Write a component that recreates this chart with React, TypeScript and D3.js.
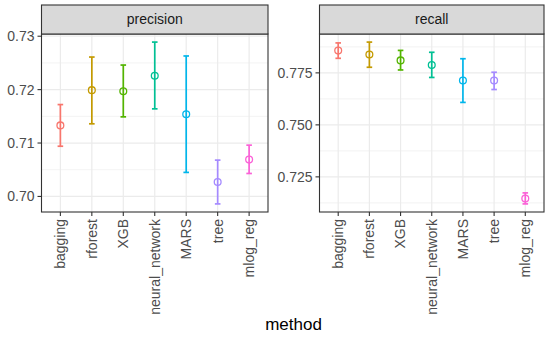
import React from "react";
import * as d3 from "d3";

const methods = ["bagging", "rforest", "XGB", "neural_network", "MARS", "tree", "mlog_reg"];
const colors = ["#F8766D", "#C49A00", "#53B400", "#00C094", "#00B6EB", "#A58AFF", "#FB61D7"];

const precisionMean = [0.7133, 0.7199, 0.7197, 0.7226, 0.7154, 0.7027, 0.7069];
const precisionLow = [0.7094, 0.7136, 0.7149, 0.7164, 0.7045, 0.6986, 0.7043];
const precisionHigh = [0.7172, 0.7261, 0.7246, 0.7289, 0.7263, 0.7068, 0.7096];

const recallMean = [0.7857, 0.7838, 0.7810, 0.7788, 0.7713, 0.7713, 0.7146];
const recallLow = [0.7820, 0.7777, 0.7764, 0.7728, 0.7608, 0.7670, 0.7120];
const recallHigh = [0.7894, 0.7898, 0.7858, 0.7849, 0.7818, 0.7753, 0.7173];

const precisionTicks = [0.70, 0.71, 0.72, 0.73];
const precisionMinor = [0.705, 0.715, 0.725];
const precisionTickLabels = ["0.70", "0.71", "0.72", "0.73"];
const recallTicks = [0.725, 0.75, 0.775];
const recallMinor = [0.7125, 0.7375, 0.7625, 0.7875];
const recallTickLabels = ["0.725", "0.750", "0.775"];

const W = 550, H = 338;
const panelTop = 34, panelBottom = 212, stripTop = 5;

type PanelProps = {
  title: string; x0: number; x1: number;
  mean: number[]; low: number[]; high: number[];
  ticks: number[]; minor: number[]; tickLabels: string[];
};

function Panel({ title, x0, x1, mean, low, high, ticks, minor, tickLabels }: PanelProps) {
  const lo = d3.min(low)!; const hi = d3.max(high)!;
  const pad = (hi - lo) * 0.05;
  const y = d3.scaleLinear().domain([lo - pad, hi + pad]).range([panelBottom, panelTop]);
  const x = d3.scalePoint<string>().domain(methods).range([x0, x1]).padding(0.6);
  const capW = 2.8;
  return (
    <g>
      <rect x={x0} y={panelTop} width={x1 - x0} height={panelBottom - panelTop} fill="#fff" />
      {minor.map((v, i) => (
        <line key={"mn" + i} x1={x0} x2={x1} y1={y(v)} y2={y(v)} stroke="#ebebeb" strokeWidth={0.6} />
      ))}
      {ticks.map((v, i) => (
        <line key={"mj" + i} x1={x0} x2={x1} y1={y(v)} y2={y(v)} stroke="#ebebeb" strokeWidth={1.2} />
      ))}
      {methods.map((m) => (
        <line key={"vg" + m} x1={x(m)} x2={x(m)} y1={panelTop} y2={panelBottom} stroke="#ebebeb" strokeWidth={1.2} />
      ))}
      {methods.map((m, i) => {
        const cx = x(m)!;
        return (
          <g key={"eb" + m} stroke={colors[i]} fill="none" strokeWidth={1.7}>
            <line x1={cx} x2={cx} y1={y(low[i])} y2={y(high[i])} />
            <line x1={cx - capW} x2={cx + capW} y1={y(low[i])} y2={y(low[i])} />
            <line x1={cx - capW} x2={cx + capW} y1={y(high[i])} y2={y(high[i])} />
            <circle cx={cx} cy={y(mean[i])} r={3.4} strokeWidth={1.3} fill="none" />
          </g>
        );
      })}
      <rect x={x0} y={panelTop} width={x1 - x0} height={panelBottom - panelTop} fill="none" stroke="#333" strokeWidth={1.1} />
      <rect x={x0} y={stripTop} width={x1 - x0} height={panelTop - stripTop} fill="#d9d9d9" stroke="#333" strokeWidth={1.1} />
      <text x={(x0 + x1) / 2} y={(stripTop + panelTop) / 2} dy="0.35em" textAnchor="middle" fontSize={14} fill="#1a1a1a">{title}</text>
      {ticks.map((v, i) => (
        <g key={"yt" + i}>
          <line x1={x0 - 4} x2={x0} y1={y(v)} y2={y(v)} stroke="#333" strokeWidth={1.1} />
          <text x={x0 - 7} y={y(v)} dy="0.35em" textAnchor="end" fontSize={14} fill="#4d4d4d">{tickLabels[i]}</text>
        </g>
      ))}
      {methods.map((m) => (
        <g key={"xt" + m}>
          <line x1={x(m)} x2={x(m)} y1={panelBottom} y2={panelBottom + 4} stroke="#333" strokeWidth={1.1} />
          <text transform={`translate(${x(m)},${panelBottom + 7}) rotate(-90)`} dy="0.35em" textAnchor="end" fontSize={14} fill="#4d4d4d">{m}</text>
        </g>
      ))}
    </g>
  );
}

export default function App() {
  return (
    <svg width={W} height={H} style={{ position: "absolute", left: 0, top: 0, fontFamily: "'Liberation Sans', Arial, sans-serif" }}>
      <rect width={W} height={H} fill="#fff" />
      <Panel title="precision" x0={41.5} x1={268} mean={precisionMean} low={precisionLow} high={precisionHigh}
        ticks={precisionTicks} minor={precisionMinor} tickLabels={precisionTickLabels} />
      <Panel title="recall" x0={319.5} x1={544} mean={recallMean} low={recallLow} high={recallHigh}
        ticks={recallTicks} minor={recallMinor} tickLabels={recallTickLabels} />
      <text x={293.5} y={330} textAnchor="middle" fontSize={17} fill="#000">method</text>
    </svg>
  );
}
